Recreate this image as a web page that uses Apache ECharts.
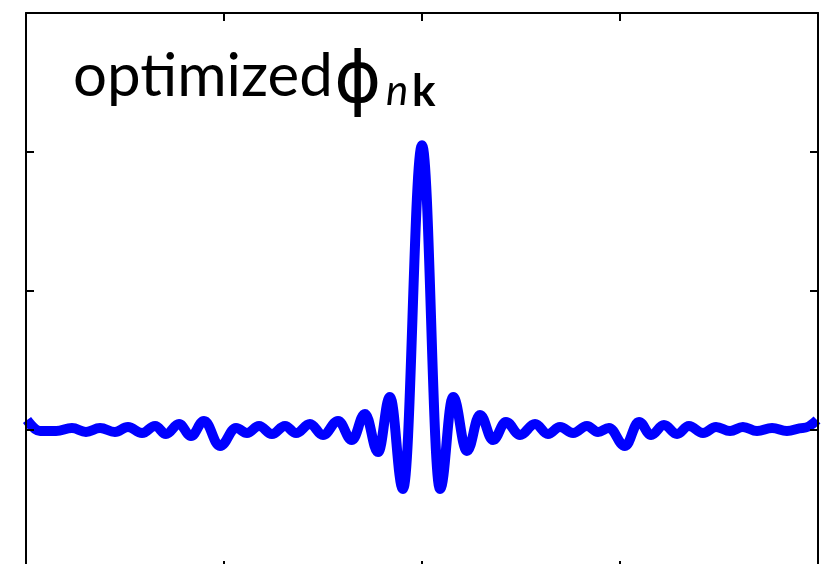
<!DOCTYPE html>
<html>
<head>
<meta charset="utf-8">
<script src="https://cdn.jsdelivr.net/npm/echarts@6/dist/echarts.min.js"></script>
<style>
  html, body { margin: 0; background: #fff; }
  #myChart { width: 836px; height: 564px; }
</style>
</head>
<body>
<div id="myChart"></div>
<script>
// position along the axis (left edge -200, right edge 200)
const xData = [
  -199.5, -192.9, -184.8, -176.8, -169.7, -162.6, -155.1, -148.5, -141.4, -134.8,
  -129.3, -122.7, -116.7, -110.1, -102.0, -93.9, -88.4, -82.3, -75.8, -69.2,
  -63.6, -56.6, -50.0, -42.4, -35.4, -28.8, -22.2, -16.2, -9.6, 0,
  9.1, 15.7, 22.7, 29.3, 35.9, 42.4, 49.5, 57.1, 63.6, 69.7,
  76.3, 83.3, 88.9, 94.4, 102.5, 109.6, 115.7, 122.2, 128.8, 134.8,
  141.9, 148.5, 155.6, 162.1, 169.2, 176.8, 184.3, 192.4, 199.5
]
// optimized phi values
const yData = [
  0.072, -0.007, -0.007, 0.014, -0.014, 0.014, -0.014, 0.022, -0.022, 0.029,
  -0.029, 0.043, -0.043, 0.065, -0.115, 0.014, -0.022, 0.029, -0.029, 0.029,
  -0.022, 0.043, -0.036, 0.065, -0.072, 0.115, -0.159, 0.238, -0.425, 2.048,
  -0.425, 0.238, -0.151, 0.108, -0.072, 0.058, -0.036, 0.043, -0.029, 0.022,
  -0.022, 0.029, -0.014, 0.014, -0.115, 0.058, -0.036, 0.036, -0.029, 0.029,
  -0.022, 0.022, -0.007, 0.022, -0.007, 0.014, -0.007, 0.014, 0.072
]

let myChart = echarts.init(document.getElementById('myChart'))

const axisLine = {show: true, onZero: false, lineStyle: {color: '#000', width: 2}}
const axisTick = {show: true, inside: true, length: 8, lineStyle: {color: '#000', width: 2}}

function xAx(pos) {
  return {
    type: 'value', position: pos, min: -200, max: 200, interval: 100, z: 10,
    axisLine: axisLine, axisTick: axisTick, axisLabel: {show: false}, splitLine: {show: false}
  }
}
function yAx(pos) {
  return {
    type: 'value', position: pos, min: -1, max: 3, interval: 1, z: 10,
    axisLine: axisLine, axisTick: axisTick, axisLabel: {show: false}, splitLine: {show: false}
  }
}

const font = 'Lato, "DejaVu Sans", sans-serif'

myChart.setOption({
  animation: false,
  backgroundColor: '#fff',
  title: [
    {text: 'optimized', left: 68, top: 42, textStyle: {fontFamily: font, fontSize: 60, fontWeight: 'normal', color: '#000'}},
    {text: 'ϕ', left: 329, top: 42, textStyle: {fontFamily: '"DejaVu Sans", sans-serif', fontSize: 72, fontWeight: 'normal', color: '#000'}},
    {text: 'n', left: 381, top: 65, textStyle: {fontFamily: font, fontSize: 42, fontStyle: 'italic', fontWeight: 'normal', color: '#000'}},
    {text: 'k', left: 407, top: 65, textStyle: {fontFamily: font, fontSize: 44, fontWeight: 'bold', color: '#000'}}
  ],
  grid: {left: 26, right: 18, top: 13, height: 556, outerBoundsMode: 'none'},
  xAxis: [xAx('bottom'), xAx('top')],
  yAxis: [yAx('left'), yAx('right')],
  series: [
    {
      type: 'line',
      xAxisIndex: 0,
      yAxisIndex: 0,
      symbol: 'none',
      smooth: 0.4,
      smoothMonotone: 'x',
      lineStyle: {color: '#0000ff', width: 10},
      data: xData.map((x, i) => [x, yData[i]])
    }
  ]
})
</script>
</body>
</html>
